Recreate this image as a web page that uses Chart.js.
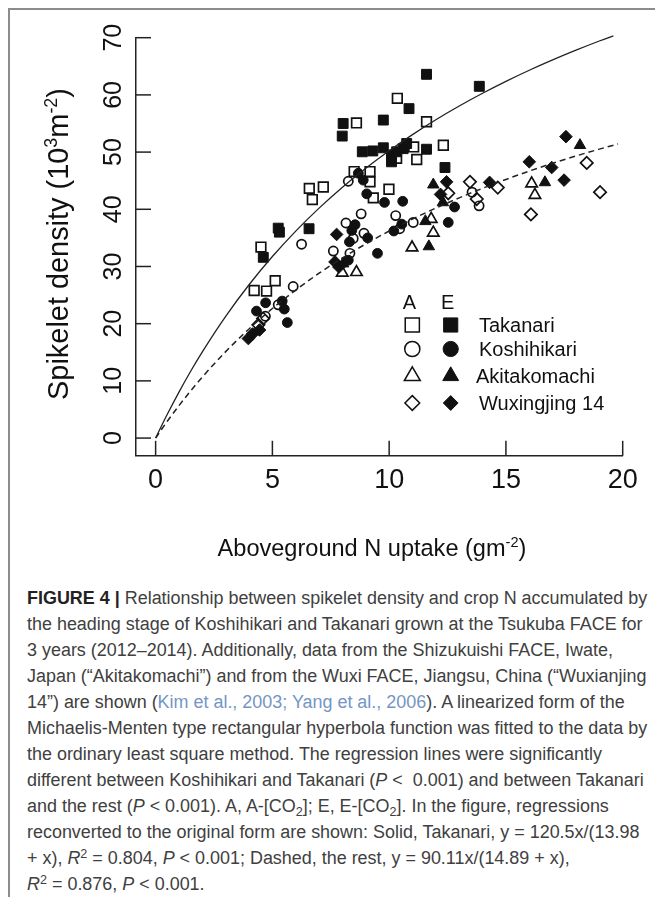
<!DOCTYPE html>
<html>
<head>
<meta charset="utf-8">
<script src="https://cdn.jsdelivr.net/npm/chart.js@4.4.1/dist/chart.umd.min.js"></script>
<style>
  html, body { margin:0; padding:0; background:#fff; }
  body { width:655px; height:897px; position:relative; overflow:hidden; }
  #frame { position:absolute; left:8px; top:8px; width:660px; height:900px; border-left:2px solid #8c8c8c; border-top:2px solid #8c8c8c; box-sizing:border-box; }
  #c { position:absolute; left:0; top:0; }
  #cap { position:absolute; left:27px; top:585px; font-family:'Liberation Sans', Arial, Helvetica, sans-serif; color:#404040; font-size:16px; }
  #cap .l { height:26px; line-height:26px; white-space:nowrap; overflow:visible; }
  #cap sup, #cap sub { font-size:0.7em; line-height:0; position:relative; vertical-align:baseline; }
  #cap sup { top:-0.5em; }
  #cap sub { top:0.3em; }
  #cap b { color:#222; }
  #cap .ref { color:#7396c4; }
</style>
</head>
<body>
<div id="frame"></div>
<canvas id="c" width="655" height="570"></canvas>
<div id="cap">
  <div class="l"><b>FIGURE 4 |</b> Relationship between spikelet density and crop N accumulated by</div>
  <div class="l">the heading stage of Koshihikari and Takanari grown at the Tsukuba FACE for</div>
  <div class="l">3 years (2012–2014). Additionally, data from the Shizukuishi FACE, Iwate,</div>
  <div class="l">Japan (“Akitakomachi”) and from the Wuxi FACE, Jiangsu, China (“Wuxianjing</div>
  <div class="l">14”) are shown (<span class="ref">Kim et al., 2003; Yang et al., 2006</span>). A linearized form of the</div>
  <div class="l" id="widest">Michaelis-Menten type rectangular hyperbola function was fitted to the data by</div>
  <div class="l">the ordinary least square method. The regression lines were significantly</div>
  <div class="l">different between Koshihikari and Takanari (<i>P</i> &lt;&nbsp; 0.001) and between Takanari</div>
  <div class="l">and the rest (<i>P</i> &lt; 0.001). A, A-[CO<sub>2</sub>]; E, E-[CO<sub>2</sub>]. In the figure, regressions</div>
  <div class="l">reconverted to the original form are shown: Solid, Takanari, y = 120.5x/(13.98</div>
  <div class="l">+ x), <i>R</i><sup>2</sup> = 0.804, <i>P</i> &lt; 0.001; Dashed, the rest, y = 90.11x/(14.89 + x),</div>
  <div class="l"><i>R</i><sup>2</sup> = 0.876, <i>P</i> &lt; 0.001.</div>
</div>
<script>
// ---------------- data ----------------
const xTickValues = [0, 5, 10, 15, 20];
const yTickValues = [0, 10, 20, 30, 40, 50, 60, 70];

const takanariElevX = [11.6, 13.86, 10.85, 8.03, 9.75, 7.99, 8.85, 9.3, 9.75, 10.1, 10.1, 10.32, 10.6, 10.75, 11.6, 12.39, 6.57, 5.25, 5.3, 4.61];
const takanariElevY = [63.6, 61.5, 57.6, 55.0, 55.6, 52.8, 50.05, 50.2, 50.75, 49.5, 48.3, 50.05, 50.6, 51.5, 50.5, 47.3, 36.6, 36.7, 36.0, 31.6];

const takanariAmbX = [10.35, 8.6, 11.6, 11.05, 11.18, 10.32, 12.32, 8.5, 9.18, 9.18, 9.32, 9.99, 6.58, 7.18, 6.71, 4.51, 4.22, 4.75, 5.12];
const takanariAmbY = [59.4, 55.1, 55.3, 50.9, 48.7, 48.9, 51.2, 46.6, 46.6, 44.8, 42.0, 43.5, 43.65, 43.9, 41.7, 33.4, 25.8, 25.7, 27.5];

const koshiElevX = [8.68, 8.89, 9.04, 9.8, 10.58, 10.54, 10.2, 9.08, 9.5, 8.54, 8.4, 8.3, 8.25, 12.53, 12.8, 4.32, 4.71, 5.42, 5.51, 5.64];
const koshiElevY = [46.3, 45.1, 42.7, 41.2, 41.4, 37.4, 36.2, 35.0, 32.3, 37.3, 36.3, 34.3, 31.1, 37.7, 40.4, 22.2, 23.65, 23.95, 22.55, 20.2];

const koshiAmbX = [8.8, 8.15, 8.46, 8.92, 7.61, 8.32, 8.25, 6.25, 5.89, 10.28, 11.03, 10.45, 13.55, 13.85, 5.25, 4.7];
const koshiAmbY = [39.2, 37.6, 34.9, 35.8, 32.7, 32.3, 44.9, 33.9, 26.5, 38.9, 37.7, 36.6, 43.0, 40.6, 23.3, 21.3];

const akitaElevX = [11.55, 11.7, 11.89, 12.3, 16.67, 18.17, 8.03];
const akitaElevY = [37.9, 33.5, 44.3, 41.2, 44.7, 51.2, 30.5];

const akitaAmbX = [11.8, 11.89, 10.98, 7.99, 8.6, 16.1, 16.24];
const akitaAmbY = [38.3, 35.9, 33.3, 28.9, 29.0, 44.5, 42.5];

const wuxiElevX = [12.46, 12.2, 14.3, 16.0, 16.96, 17.49, 17.57, 7.68, 7.85, 7.75, 3.97, 4.15, 4.45];
const wuxiElevY = [44.8, 42.6, 44.7, 48.3, 47.3, 45.1, 52.7, 30.8, 29.9, 35.6, 17.4, 18.2, 18.9];

const wuxiAmbX = [12.53, 13.46, 13.75, 14.65, 16.07, 18.46, 19.03, 4.4, 4.6];
const wuxiAmbY = [42.8, 44.8, 41.8, 43.8, 39.1, 48.1, 43.0, 19.8, 20.9];

// regression curves as drawn
const solidCurveX = [0, 0.25, 0.5, 1, 1.5, 2, 3, 4, 5, 6, 7, 8, 9, 10, 11, 12, 13, 14, 15, 16, 17, 18, 19, 19.6];
const solidCurveY = [0, 2.12, 4.16, 8.04, 11.68, 15.08, 21.29, 26.81, 31.74, 36.19, 40.20, 43.86, 47.19, 50.25, 53.06, 55.66, 58.06, 60.29, 62.37, 64.31, 66.12, 67.82, 69.42, 70.33];
const dashedCurveX = [0, 0.25, 0.5, 1, 1.5, 2, 3, 4, 5, 6, 7, 8, 9, 10, 11, 12, 13, 14, 15, 16, 17, 18, 19, 19.8];
const dashedCurveY = [0, 1.49, 2.93, 5.67, 8.25, 10.67, 15.11, 19.08, 22.65, 25.88, 28.82, 31.49, 33.95, 36.20, 38.29, 40.21, 42.00, 43.67, 45.22, 46.68, 48.04, 49.32, 50.52, 51.43];

const legendVarieties = ['Takanari', 'Koshihikari', 'Akitakomachi', 'Wuxingjing 14'];
const legendHeaders = ['A', 'E'];
const xTitle = [{t:'Aboveground N uptake (gm'}, {t:'-2', sup:true}, {t:')'}];
const yTitle = [{t:'Spikelet density (10'}, {t:'3', sup:true}, {t:'m'}, {t:'-2', sup:true}, {t:')'}];

// ---------------- chart ----------------
const FONT = "'Liberation Sans', Arial, Helvetica, sans-serif";
const pts = (xs, ys) => xs.map((x, i) => ({x: x, y: ys[i]}));
const INK = '#111';
function markerDs(xs, ys, style, filled, r) {
  return {
    data: pts(xs, ys), pointStyle: style, pointRadius: r, pointHoverRadius: r,
    backgroundColor: filled ? INK : 'rgba(0,0,0,0)', borderColor: INK,
    borderWidth: filled ? 1 : 1.7, showLine: false
  };
}

function drawRuns(ctx, runs, cx, cy, rot, targetW) {
  // size the font so the title spans the same length as in the reference
  const measure = (s) => runs.reduce((w, r) => { ctx.font = (r.sup ? s * 0.62 : s) + 'px ' + FONT; return w + ctx.measureText(r.t).width; }, 0);
  const size = 100 * targetW / measure(100);
  const total = measure(size);
  ctx.save(); ctx.translate(cx, cy); ctx.rotate(rot);
  ctx.textAlign = 'left'; ctx.textBaseline = 'alphabetic'; ctx.fillStyle = INK;
  let px = -total / 2; const base = size * 0.36;
  runs.forEach(r => {
    ctx.font = (r.sup ? size * 0.62 : size) + 'px ' + FONT;
    ctx.fillText(r.t, px, r.sup ? base - size * 0.4 : base);
    px += ctx.measureText(r.t).width;
  });
  ctx.restore();
}

const decor = {
  id: 'decor',
  afterDraw(chart) {
    const {ctx, chartArea: a, scales: {x, y}} = chart;
    ctx.save();
    ctx.strokeStyle = '#222'; ctx.lineWidth = 1.5;
    // inward tick marks
    xTickValues.forEach(v => { const p = x.getPixelForValue(v); ctx.beginPath(); ctx.moveTo(p, a.bottom); ctx.lineTo(p, a.bottom - 15); ctx.stroke(); });
    yTickValues.forEach(v => { const p = y.getPixelForValue(v); ctx.beginPath(); ctx.moveTo(a.left, p); ctx.lineTo(a.left + 15, p); ctx.stroke(); });
    // rotated y tick labels
    ctx.fillStyle = INK; ctx.font = '25px ' + FONT; ctx.textAlign = 'center'; ctx.textBaseline = 'middle';
    yTickValues.forEach(v => { const p = y.getPixelForValue(v); ctx.save(); ctx.translate(a.left - 23, p); ctx.rotate(-Math.PI/2); ctx.fillText(String(v), 0, 1); ctx.restore(); });
    // axis titles
    drawRuns(ctx, yTitle, a.left - 78, 244, -Math.PI/2, 312);
    drawRuns(ctx, xTitle, 372, 548, 0, 309);
    // legend
    const colA = 412.3, colE = 450.7, textX = 479;
    const rows = [325, 349, 376, 403];
    const styles = ['rect', 'circle', 'triangle', 'rectRot'];
    const rads = [10, 7.6, 9.2, 7.4];
    ctx.font = '20px ' + FONT; ctx.textAlign = 'center'; ctx.textBaseline = 'middle'; ctx.fillStyle = INK;
    ctx.fillText(legendHeaders[0], colA - 3, 303);
    ctx.fillText(legendHeaders[1], colE - 3, 303);
    styles.forEach((st, i) => {
      ctx.fillStyle = 'rgba(0,0,0,0)'; ctx.strokeStyle = INK; ctx.lineWidth = 1.5;
      Chart.helpers.drawPoint(ctx, {pointStyle: st, radius: rads[i], borderWidth: 1.5}, colA, rows[i]);
      ctx.fillStyle = INK; ctx.strokeStyle = INK; ctx.lineWidth = 1;
      Chart.helpers.drawPoint(ctx, {pointStyle: st, radius: rads[i], borderWidth: 1}, colE, rows[i]);
    });
    ctx.textAlign = 'left'; ctx.fillStyle = INK;
    legendVarieties.forEach((name, i) => ctx.fillText(name, i === 2 ? textX - 3 : textX, rows[i] + 1));
    ctx.restore();
  }
};

new Chart(document.getElementById('c'), {
  type: 'scatter',
  data: {
    datasets: [
      {data: pts(solidCurveX, solidCurveY), showLine: true, pointRadius: 0, borderColor: '#222', borderWidth: 1.3, fill: false, clip: false, cubicInterpolationMode: 'monotone'},
      {data: pts(dashedCurveX, dashedCurveY), showLine: true, pointRadius: 0, borderColor: '#222', borderWidth: 1.5, borderDash: [6, 4], fill: false, clip: false, cubicInterpolationMode: 'monotone'},
      markerDs(takanariAmbX, takanariAmbY, 'rect', false, 6.8),
      markerDs(takanariElevX, takanariElevY, 'rect', true, 7),
      markerDs(koshiAmbX, koshiAmbY, 'circle', false, 4.6),
      markerDs(koshiElevX, koshiElevY, 'circle', true, 4.9),
      markerDs(akitaAmbX, akitaAmbY, 'triangle', false, 6.6),
      markerDs(akitaElevX, akitaElevY, 'triangle', true, 6.6),
      markerDs(wuxiAmbX, wuxiAmbY, 'rectRot', false, 6.2),
      markerDs(wuxiElevX, wuxiElevY, 'rectRot', true, 6.3)
    ]
  },
  options: {
    responsive: false, animation: false, devicePixelRatio: 1,
    layout: {padding: {top: 37.7, right: 32.3, left: 0, bottom: 0}},
    plugins: {legend: {display: false}, tooltip: {enabled: false}},
    scales: {
      x: {
        type: 'linear', min: -0.84, max: 20,
        grid: {display: false, drawTicks: false},
        border: {display: true, color: '#222', width: 1.5},
        ticks: {stepSize: 5, includeBounds: false, autoSkip: false, maxRotation: 0, padding: 9, color: INK, font: {family: FONT, size: 27}},
        afterFit: s => { s.height = 570 - 455.8; }
      },
      y: {
        type: 'linear', min: -3.1, max: 70,
        grid: {display: false, drawTicks: false},
        border: {display: true, color: '#222', width: 1.5},
        ticks: {display: false, stepSize: 10, includeBounds: false},
        afterFit: s => { s.width = 136; }
      }
    }
  },
  plugins: [decor]
});

// fit caption font so the longest line spans like the reference
(function () {
  const cap = document.getElementById('cap');
  const w = document.getElementById('widest');
  const range = document.createRange(); range.selectNodeContents(w);
  const cur = range.getBoundingClientRect().width;
  cap.style.fontSize = (16 * 621 / cur).toFixed(2) + 'px';
})();
</script>
</body>
</html>
